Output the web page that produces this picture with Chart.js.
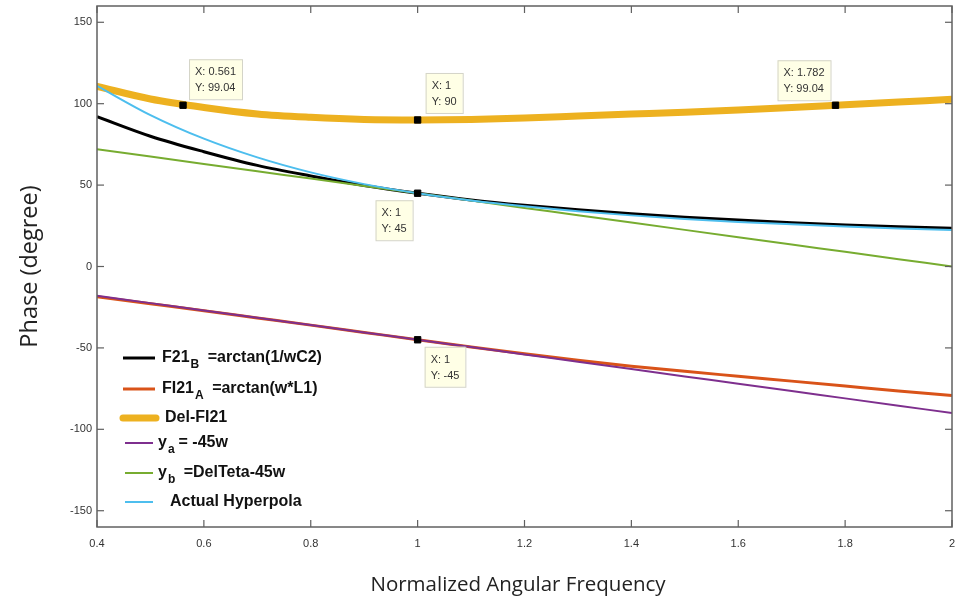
<!DOCTYPE html>
<html>
<head>
<meta charset="utf-8">
<script src="https://cdn.jsdelivr.net/npm/chart.js@4.4.1/dist/chart.umd.min.js"></script>
<style>
    html, body { margin: 0; padding: 0; background: #fff; }
</style>
</head>
<body>
<canvas id="phaseChart" width="960" height="603"></canvas>
<script>
// values
const freq = [0.4, 0.5, 0.6, 0.7, 0.8, 0.9, 1.0, 1.1, 1.2, 1.3, 1.4, 1.5, 1.6, 1.7, 1.8, 1.9, 2.0];
const f21B = [92, 80, 70.5, 62.1, 55.6, 49.8, 45, 40.9, 37.6, 34.8, 32.4, 30.3, 28.5, 26.9, 25.5, 24.4, 23.5];
const fi21A = [-18.6, -22.9, -27.2, -31.6, -36, -40.5, -45, -49.4, -53.6, -57.6, -61.2, -64.4, -67.4, -70.4, -73.4, -76.4, -79.2];
const delFi21 = [110.6, 102.9, 97.7, 93.7, 91.6, 90.3, 90, 90.3, 91.2, 92.4, 93.6, 94.8, 96.1, 97.6, 99.3, 101, 102.7];
const yA = [-18, -22.5, -27, -31.5, -36, -40.5, -45, -49.5, -54, -58.5, -63, -67.5, -72, -76.5, -81, -85.5, -90];
const yB = [72, 67.5, 63, 58.5, 54, 49.5, 45, 40.5, 36, 31.5, 27, 22.5, 18, 13.5, 9, 4.5, 0];
const hyperpola = [111, 93, 78.5, 67, 57.8, 50.6, 45, 40.6, 37, 34, 31.4, 29.2, 27.4, 25.9, 24.6, 23.4, 22.4];

// data tips
const tipX = [0.561, 1, 1.782, 1, 1];
const tipY = [99.04, 90, 99.04, 45, -45];
const tipTextX = ['0.561', '1', '1.782', '1', '1'];
const tipTextY = ['99.04', '90', '99.04', '45', '-45'];

const xTicks = [0.4, 0.6, 0.8, 1, 1.2, 1.4, 1.6, 1.8, 2];
const yTicks = [-150, -100, -50, 0, 50, 100, 150];

// legend text: [main, subscript, rest]
const legendText = [
    ['F21', 'B', ' =arctan(1/wC2)'],
    ['FI21', 'A', ' =arctan(w*L1)'],
    ['Del-FI21', '', ''],
    ['y', 'a', '= -45w'],
    ['y', 'b', ' =DelTeta-45w'],
    ['Actual Hyperpola', '', '']
];

const pts = ys => freq.map((x, i) => ({ x: x, y: ys[i] }));

function seg(ctx, x1, y1, x2, y2) {
    ctx.beginPath();
    ctx.moveTo(x1, y1);
    ctx.lineTo(x2, y2);
    ctx.stroke();
}

const framePlugin = {
    id: 'frame',
    afterDatasetsDraw(chart) {
        const { ctx, chartArea: a, scales: { x, y } } = chart;
        ctx.save();
        ctx.strokeStyle = '#606060';
        ctx.lineWidth = 1.5;
        ctx.strokeRect(a.left, a.top, a.right - a.left, a.bottom - a.top);
        ctx.lineWidth = 1.2;
        xTicks.forEach(v => {
            const px = x.getPixelForValue(v);
            seg(ctx, px, a.bottom, px, a.bottom - 7);
            seg(ctx, px, a.top, px, a.top + 7);
        });
        yTicks.forEach(v => {
            const py = y.getPixelForValue(v);
            seg(ctx, a.left, py, a.left + 7, py);
            seg(ctx, a.right, py, a.right - 7, py);
        });
        ctx.restore();
    },
    afterDraw(chart) {
        const { ctx, chartArea: a, scales: { x, y } } = chart;
        ctx.save();

        // axis titles
        ctx.fillStyle = '#222';
        ctx.textAlign = 'center';
        ctx.textBaseline = 'middle';
        ctx.font = '20.5px "Open Sans"';
        ctx.fillText('Normalized Angular Frequency', 518, 585);
        ctx.save();
        ctx.translate(30, (a.top + a.bottom) / 2);
        ctx.rotate(-Math.PI / 2);
        ctx.font = '23.5px "Open Sans"';
        ctx.fillText('Phase (degree)', 0, 0);
        ctx.restore();

        // data tip boxes
        const place = [[6, -6, 1, -1], [8, -7, 1, -1], [-5, -5, -1, -1], [-5, 7, -1, 1], [7, 7, 1, 1]];
        ctx.font = '11px "Liberation Sans"';
        ctx.textAlign = 'left';
        tipX.forEach((v, i) => {
            const px = x.getPixelForValue(v);
            const py = y.getPixelForValue(tipY[i]);
            const l1 = 'X: ' + tipTextX[i];
            const l2 = 'Y: ' + tipTextY[i];
            const w = Math.max(ctx.measureText(l1).width, ctx.measureText(l2).width) + 12;
            const h = 40;
            const p = place[i];
            const bx = p[2] > 0 ? px + p[0] : px + p[0] - w;
            const by = p[3] > 0 ? py + p[1] : py + p[1] - h;
            ctx.fillStyle = '#ffffe6';
            ctx.fillRect(bx, by, w, h);
            ctx.strokeStyle = '#d4d4c8';
            ctx.lineWidth = 1;
            ctx.strokeRect(bx + 0.5, by + 0.5, w, h);
            ctx.fillStyle = '#333';
            ctx.fillText(l1, bx + 6, by + 13);
            ctx.fillText(l2, bx + 6, by + 29);
        });

        // legend with subscripts
        const rowY = [358, 389, 418, 443, 473, 502];
        const lineX = [[123, 155], [123, 155], [123, 156], [125, 153], [125, 153], [125, 153]];
        const textX = [162, 162, 165, 158, 158, 170];
        chart.data.datasets.slice(0, 6).forEach((ds, i) => {
            ctx.strokeStyle = ds.borderColor;
            ctx.lineWidth = ds.borderWidth;
            ctx.lineCap = i === 2 ? 'round' : 'butt';
            seg(ctx, lineX[i][0], rowY[i], lineX[i][1], rowY[i]);
            const t = legendText[i];
            let tx = textX[i];
            ctx.fillStyle = '#111';
            ctx.textBaseline = 'middle';
            ctx.font = 'bold 16px "Liberation Sans"';
            ctx.fillText(t[0], tx, rowY[i]);
            tx += ctx.measureText(t[0]).width + 1;
            if (t[1]) {
                ctx.font = 'bold 12px "Liberation Sans"';
                ctx.fillText(t[1], tx, rowY[i] + 7);
                tx += ctx.measureText(t[1]).width + 4;
            }
            ctx.font = 'bold 16px "Liberation Sans"';
            ctx.fillText(t[2], tx, rowY[i]);
        });
        ctx.restore();
    }
};

const ctx = document.getElementById('phaseChart').getContext('2d');
const phaseChart = new Chart(ctx, {
    type: 'line',
    data: {
        datasets: [
            { label: 'F21B =arctan(1/wC2)', data: pts(f21B), borderColor: '#000000', borderWidth: 3, order: 5 },
            { label: 'FI21A =arctan(w*L1)', data: pts(fi21A), borderColor: '#D95319', borderWidth: 3, order: 4 },
            { label: 'Del-FI21', data: pts(delFi21), borderColor: '#EDB120', borderWidth: 7, borderCapStyle: 'round', order: 3 },
            { label: 'ya = -45w', data: pts(yA), borderColor: '#7E2F8E', borderWidth: 2, order: 2 },
            { label: 'yb =DelTeta-45w', data: pts(yB), borderColor: '#77AC30', borderWidth: 2, order: 1 },
            { label: 'Actual Hyperpola', data: pts(hyperpola), borderColor: '#4DBEEE', borderWidth: 2, order: 0 },
            {
                label: 'tips',
                data: tipX.map((v, i) => ({ x: v, y: tipY[i] })),
                showLine: false,
                pointStyle: 'rect',
                pointRadius: 4.5,
                pointBackgroundColor: '#000',
                pointBorderColor: '#000',
                order: -1
            }
        ]
    },
    options: {
        responsive: false,
        animation: false,
        events: [],
        layout: { padding: { top: 6, right: 8, left: 0, bottom: 0 } },
        elements: {
            point: { radius: 0 },
            line: { cubicInterpolationMode: 'monotone', fill: false }
        },
        plugins: {
            legend: { display: false },
            tooltip: { enabled: false }
        },
        scales: {
            x: {
                type: 'linear',
                min: 0.4,
                max: 2,
                grid: { display: false, drawTicks: false },
                border: { display: false },
                afterBuildTicks: s => { s.ticks = xTicks.map(v => ({ value: v })); },
                afterFit: s => {
                    s.height = 76;
                    s.paddingLeft = 0;
                    s.paddingRight = 0;
                },
                ticks: {
                    padding: 10,
                    color: '#333',
                    font: { family: 'Liberation Sans', size: 11 },
                    maxRotation: 0,
                    callback: v => String(v)
                }
            },
            y: {
                min: -160,
                max: 160,
                grid: { display: false, drawTicks: false },
                border: { display: false },
                afterBuildTicks: s => { s.ticks = yTicks.map(v => ({ value: v })); },
                afterFit: s => {
                    s.width = 97;
                    s.paddingTop = 0;
                    s.paddingBottom = 0;
                },
                ticks: {
                    padding: 5,
                    color: '#333',
                    font: { family: 'Liberation Sans', size: 11 },
                    callback: v => String(v)
                }
            }
        }
    },
    plugins: [framePlugin]
});
</script>
</body>
</html>
